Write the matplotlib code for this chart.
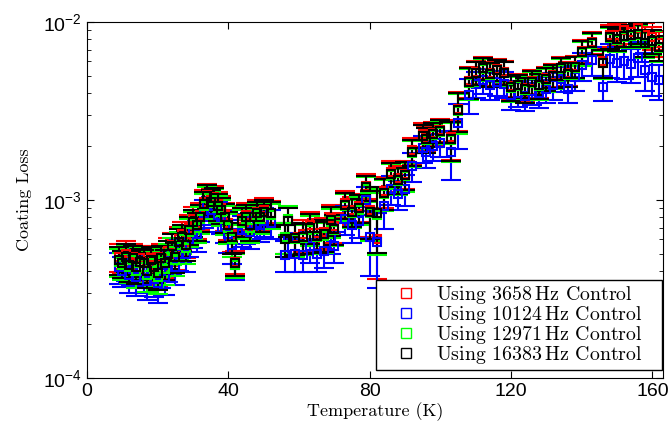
import matplotlib
matplotlib.use("Agg")
import matplotlib.pyplot as plt
from matplotlib.lines import Line2D
import numpy as np

# Temperatures (K), shared by the four measurement series
temps = [9, 10, 11, 12, 13, 14, 15, 16, 17, 18, 19, 20, 21, 22, 23, 24, 25, 26, 27, 28,
         29, 30, 31, 32, 33, 34, 35, 36, 37, 38, 39, 40, 41, 42, 44, 45, 46, 48, 49, 50,
         52, 56, 57, 59, 61, 63, 65, 67, 69, 70, 73, 75, 77, 79, 80, 82, 84, 86, 88, 90,
         92, 95, 96, 98, 100, 103, 105, 108, 110, 112, 114, 116, 118, 120, 122, 124, 126, 128, 130, 132,
         134, 136, 138, 140, 143, 146, 148, 150, 152, 154, 156, 158, 160, 162]

# coating loss, in units of 1e-3
loss_3658 = [0.48, 0.46, 0.50, 0.45, 0.48, 0.44, 0.47, 0.45, 0.42, 0.47, 0.43, 0.41, 0.48, 0.45, 0.52, 0.56, 0.50, 0.60, 0.64, 0.58,
             0.70, 0.78, 0.74, 0.82, 0.98, 1.07, 1.00, 1.04, 0.95, 0.90, 0.82, 0.74, 0.64, 0.45, 0.78, 0.82, 0.74, 0.86, 0.81, 0.88,
             0.85, 0.62, 0.77, 0.62, 0.64, 0.72, 0.65, 0.66, 0.79, 0.71, 0.96, 0.88, 0.92, 1.20, 0.88, 0.60, 1.12, 1.43, 1.33, 1.40,
             1.90, 2.35, 2.25, 2.38, 2.48, 2.25, 3.25, 4.65, 5.25, 5.55, 5.15, 5.45, 5.25, 4.35, 4.45, 4.25, 4.65, 4.45, 4.85, 5.05,
             5.55, 5.15, 5.65, 6.90, 7.70, 6.00, 8.40, 8.50, 9.00, 8.80, 9.20, 8.50, 8.20, 7.60]
loss_10124 = [0.42, 0.40, 0.44, 0.38, 0.41, 0.37, 0.40, 0.38, 0.35, 0.40, 0.36, 0.34, 0.40, 0.37, 0.43, 0.47, 0.42, 0.50, 0.55, 0.50,
              0.60, 0.66, 0.64, 0.72, 0.85, 0.95, 0.88, 0.92, 0.82, 0.80, 0.72, 0.64, 0.56, 0.43, 0.68, 0.70, 0.66, 0.74, 0.72, 0.76,
              0.74, 0.49, 0.62, 0.50, 0.49, 0.55, 0.50, 0.52, 0.62, 0.55, 0.78, 0.72, 0.76, 1.00, 0.62, 0.58, 0.92, 1.15, 1.08, 1.15,
              1.55, 1.95, 1.85, 2.00, 2.10, 1.85, 2.70, 3.90, 4.50, 4.70, 4.40, 4.60, 4.50, 3.90, 4.00, 3.85, 4.10, 4.00, 4.20, 4.40,
              4.80, 4.20, 4.90, 5.70, 6.10, 4.30, 6.20, 5.90, 6.00, 5.80, 6.30, 5.40, 4.90, 4.70]
loss_12971 = [0.45, 0.43, 0.47, 0.42, 0.46, 0.40, 0.44, 0.42, 0.38, 0.44, 0.40, 0.37, 0.45, 0.41, 0.48, 0.52, 0.46, 0.56, 0.60, 0.54,
              0.66, 0.73, 0.70, 0.78, 0.93, 1.03, 0.96, 1.00, 0.90, 0.86, 0.78, 0.70, 0.60, 0.43, 0.74, 0.78, 0.70, 0.82, 0.78, 0.84,
              0.82, 0.62, 0.78, 0.60, 0.61, 0.68, 0.62, 0.63, 0.75, 0.68, 0.92, 0.85, 0.88, 1.16, 0.84, 0.82, 1.08, 1.38, 1.28, 1.36,
              1.84, 2.28, 2.18, 2.33, 2.42, 2.18, 3.15, 4.55, 5.15, 5.45, 5.05, 5.35, 5.15, 4.25, 4.35, 4.15, 4.55, 4.35, 4.75, 4.95,
              5.45, 5.05, 5.55, 6.70, 7.50, 5.85, 8.10, 7.90, 8.20, 8.30, 8.50, 7.50, 7.70, 7.10]
loss_16383 = [0.46, 0.44, 0.48, 0.43, 0.47, 0.42, 0.45, 0.44, 0.40, 0.46, 0.42, 0.39, 0.47, 0.44, 0.50, 0.55, 0.48, 0.58, 0.62, 0.56,
              0.68, 0.75, 0.72, 0.80, 0.95, 1.05, 0.98, 1.02, 0.92, 0.88, 0.80, 0.72, 0.62, 0.44, 0.76, 0.80, 0.72, 0.84, 0.80, 0.86,
              0.84, 0.60, 0.76, 0.61, 0.62, 0.70, 0.63, 0.64, 0.77, 0.69, 0.94, 0.86, 0.90, 1.18, 0.86, 0.84, 1.10, 1.40, 1.30, 1.38,
              1.86, 2.30, 2.20, 2.35, 2.45, 2.20, 3.20, 4.60, 5.20, 5.50, 5.10, 5.40, 5.20, 4.30, 4.40, 4.20, 4.60, 4.40, 4.80, 5.00,
              5.50, 5.10, 5.60, 6.80, 7.60, 5.90, 8.20, 8.00, 8.30, 8.40, 8.60, 7.60, 7.80, 7.20]

# relative uncertainties
rel_err = [0.18, 0.17, 0.18, 0.19, 0.18, 0.20, 0.18, 0.19, 0.20, 0.18, 0.19, 0.20, 0.18, 0.19, 0.18, 0.17, 0.19, 0.18, 0.17, 0.19,
           0.18, 0.17, 0.18, 0.17, 0.16, 0.15, 0.16, 0.15, 0.17, 0.17, 0.18, 0.19, 0.20, 0.15, 0.18, 0.17, 0.18, 0.16, 0.17, 0.16,
           0.16, 0.20, 0.18, 0.20, 0.20, 0.19, 0.20, 0.20, 0.18, 0.19, 0.17, 0.18, 0.18, 0.16, 0.30, 0.40, 0.20, 0.16, 0.17, 0.18,
           0.17, 0.15, 0.16, 0.15, 0.15, 0.25, 0.25, 0.20, 0.15, 0.14, 0.15, 0.14, 0.15, 0.16, 0.15, 0.16, 0.15, 0.16, 0.15, 0.15,
           0.14, 0.15, 0.14, 0.15, 0.14, 0.18, 0.14, 0.14, 0.13, 0.14, 0.13, 0.16, 0.15, 0.16]
rel_err_blue = [0.20, 0.19, 0.20, 0.21, 0.20, 0.22, 0.20, 0.21, 0.22, 0.20, 0.21, 0.22, 0.20, 0.21, 0.20, 0.19, 0.21, 0.20, 0.19, 0.21,
                0.20, 0.19, 0.20, 0.19, 0.18, 0.17, 0.18, 0.17, 0.19, 0.19, 0.20, 0.21, 0.22, 0.17, 0.20, 0.19, 0.20, 0.18, 0.19, 0.18,
                0.18, 0.20, 0.20, 0.21, 0.20, 0.20, 0.21, 0.20, 0.20, 0.20, 0.19, 0.20, 0.20, 0.18, 0.40, 0.45, 0.25, 0.18, 0.19, 0.20,
                0.19, 0.17, 0.18, 0.17, 0.17, 0.30, 0.28, 0.22, 0.17, 0.16, 0.17, 0.16, 0.17, 0.18, 0.17, 0.18, 0.17, 0.18, 0.17, 0.17,
                0.16, 0.17, 0.16, 0.18, 0.18, 0.16, 0.22, 0.22, 0.20, 0.22, 0.22, 0.24, 0.22, 0.22]

labels = ["Using 3658$\\,$Hz Control", "Using 10124$\\,$Hz Control",
          "Using 12971$\\,$Hz Control", "Using 16383$\\,$Hz Control"]
colors = ["#ff0000", "#0000ff", "#00ff00", "#000000"]

plt.rcParams["font.family"] = ["Liberation Sans", "DejaVu Sans"]
plt.rcParams["mathtext.fontset"] = "custom"
plt.rcParams["mathtext.rm"] = "Liberation Sans"
plt.rcParams["mathtext.default"] = "regular"

fig = plt.figure(figsize=(6.7, 4.32), dpi=100)
ax = fig.add_axes([87 / 670, 54 / 432, 576 / 670, 356 / 432])

series = [(loss_3658, rel_err), (loss_10124, rel_err_blue), (loss_12971, rel_err), (loss_16383, rel_err)]
t = np.array(temps)
for (vals, errs), c in zip(series, colors):
    y = np.array(vals) * 1e-3
    yerr = y * np.array(errs)
    ax.errorbar(t, y, yerr=yerr, fmt="s", color=c, mfc="none", mec=c, ms=6, mew=1.5,
                elinewidth=1.5, capsize=7.5, capthick=1.5)

ax.set_yscale("log")
ax.set_xlim(0, 163)
ax.set_ylim(1e-4, 1e-2)
ax.set_xticks([0, 40, 80, 120, 160])
ax.tick_params(which="both", direction="in", top=True, right=True, labelsize=14)
ax.tick_params(axis="x", which="minor", bottom=False, top=False)
ax.tick_params(which="major", length=5)
ax.tick_params(which="minor", length=3)

ax.set_xlabel("Temperature (K)", fontfamily="cmr10", fontsize=13, labelpad=2)
ax.set_ylabel("Coating Loss", fontfamily="cmr10", fontsize=13, labelpad=8)

# legend box spans a fixed width, text left aligned as in the original
handles = [Line2D([], [], ls="none", marker="s", mfc="none", mec=c, ms=7, mew=1) for c in colors]
leg = ax.legend(handles, labels, loc="lower left", bbox_to_anchor=(0.502, 0.0225, 0.496, 0.239),
                mode="expand", borderaxespad=0,
                prop={"family": "cmr10", "size": 14.3}, fancybox=False, framealpha=1, edgecolor="black",
                labelspacing=-0.1, handletextpad=0.2, borderpad=0.2, handlelength=2.6)
leg.get_frame().set_linewidth(1.0)

fig.savefig("out.png", dpi=100)
